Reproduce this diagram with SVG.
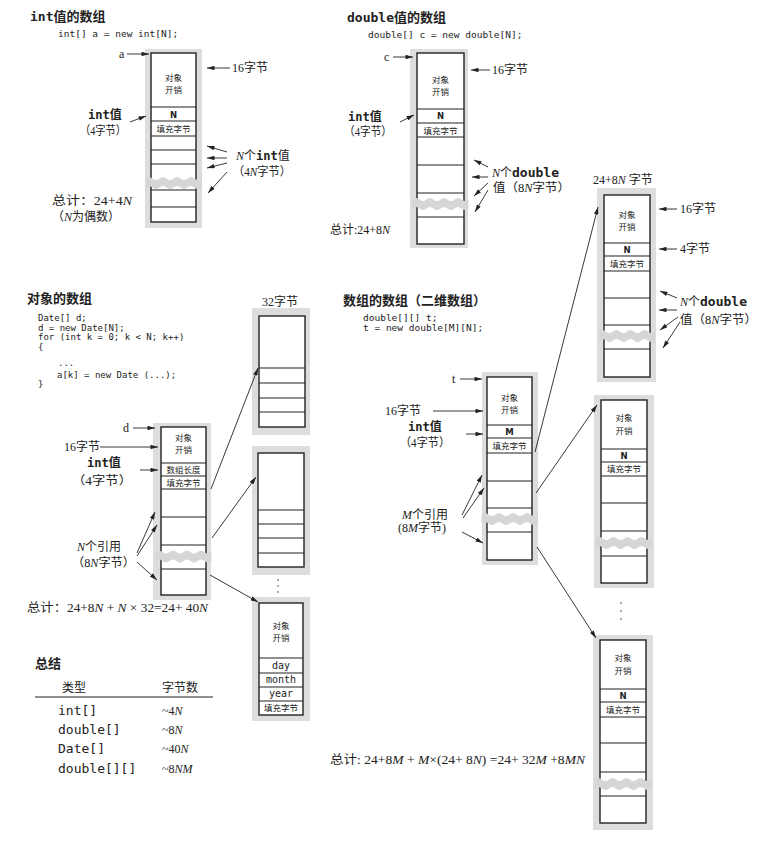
<svg xmlns="http://www.w3.org/2000/svg" xmlns:xlink="http://www.w3.org/1999/xlink" width="768" height="842" viewBox="0 0 768 842">
<style>
.g{fill:#dddddd}
.bx{fill:#fff;stroke:#222;stroke-width:1.4}
.ln{stroke:#222;stroke-width:1.2;fill:none}
.ar{stroke:#222;stroke-width:0.9;fill:none;marker-end:url(#ah)}
.t{font-family:"Liberation Serif","Noto Sans CJK SC",serif;font-size:12px;fill:#222}
.s{font-family:"Noto Sans CJK SC",sans-serif;font-size:8.5px;fill:#222;text-anchor:middle}
.nb{font-family:"DejaVu Sans",sans-serif;font-size:8.5px;font-weight:bold;fill:#222;text-anchor:middle}
.m{font-family:"DejaVu Sans Mono",monospace;fill:#222}
.mb{font-family:"DejaVu Sans Mono",monospace;font-weight:bold}
.h{font-family:"Noto Sans CJK SC",sans-serif;font-weight:bold;font-size:13px;fill:#222}
.i{font-style:italic}
.dot{fill:#444}
</style>
<defs>
<marker id="ah" viewBox="0 0 10 6" refX="10" refY="3" markerWidth="8" markerHeight="4.5" orient="auto" markerUnits="userSpaceOnUse"><path d="M0,0 L10,3 L0,6 Z" fill="#222"/></marker>
<path id="brk" fill="#d6d6d6" d="M0,2 q3.5,-3 7,0 t7,0 t7,0 t7,0 t7,0 t7,0 t7,0 t7,0 L56,11 q-3.5,3 -7,0 t-7,0 t-7,0 t-7,0 t-7,0 t-7,0 t-7,0 t-7,0 Z"/>
</defs>
<rect width="768" height="842" fill="#fff"/>

<g id="int-title">
<text class="h" x="30" y="21"><tspan class="mb">int</tspan>值的数组</text>
<text class="m" x="58" y="37" font-size="9.5">int[] a = new int[N];</text>
</g>
<g id="double-title">
<text class="h" x="347" y="22"><tspan class="mb">double</tspan>值的数组</text>
<text class="m" x="368" y="38" font-size="9.5">double[] c = new double[N];</text>
</g>
<g id="date-title">
<text class="h" x="27" y="303">对象的数组</text>
<g class="m" font-size="9">
<text x="38" y="321">Date[] d;</text>
<text x="38" y="331">d = new Date[N];</text>
<text x="38" y="340">for (int k = 0; k &lt; N; k++)</text>
<text x="38" y="350">{</text>
<text x="58" y="366">...</text>
<text x="57" y="378">a[k] = new Date (...);</text>
<text x="38" y="387">}</text>
</g>
</g>
<g id="twod-title">
<text class="h" x="343" y="305">数组的数组（二维数组）</text>
<text class="m" x="363" y="321" font-size="9.5">double[][] t;</text>
<text class="m" x="363" y="331" font-size="9.5">t = new double[M][N];</text>
</g>

<g id="int-array">
<rect class="g" x="145" y="49" width="57" height="179"/>
<rect class="bx" x="151" y="53" width="45" height="169"/>
<path class="ln" d="M151,107H196M151,121H196M151,136H196M151,150H196M151,164H196M151,190H196M151,207H196"/>
<use href="#brk" x="145.5" y="176.5"/>
<text class="s" x="173.5" y="81">对象</text>
<text class="s" x="173.5" y="93">开销</text>
<text class="nb" x="173.5" y="117.5">N</text>
<text class="s" x="173.5" y="131.5">填充字节</text>
</g>
<g id="int-labels">
<text class="t" x="119" y="58">a</text>
<text class="t" x="232" y="72">16字节</text>
<text class="t" x="88" y="119" font-weight="bold"><tspan class="mb">int</tspan>值</text>
<text class="t" x="80" y="135" textLength="46" lengthAdjust="spacingAndGlyphs">（4字节）</text>
<text class="t" x="236" y="160"><tspan class="i">N</tspan>个<tspan class="mb">int</tspan>值</text>
<text class="t" x="233" y="176" textLength="58" lengthAdjust="spacingAndGlyphs">（4<tspan class="i">N</tspan>字节）</text>
<text class="t" x="52" y="205" textLength="80" lengthAdjust="spacingAndGlyphs">总计：24+4<tspan class="i">N</tspan></text>
<text class="t" x="52" y="221" textLength="68" lengthAdjust="spacingAndGlyphs">（<tspan class="i">N</tspan>为偶数）</text>
</g>

<g id="double-array">
<rect class="g" x="410" y="49" width="58" height="199"/>
<rect class="bx" x="417" y="53" width="47" height="191"/>
<path class="ln" d="M417,109H464M417,123H464M417,137H464M417,165H464M417,193H464M417,217H464"/>
<use href="#brk" x="412.5" y="197.5"/>
<text class="s" x="440.5" y="83">对象</text>
<text class="s" x="440.5" y="95">开销</text>
<text class="nb" x="440.5" y="119">N</text>
<text class="s" x="440.5" y="133.5">填充字节</text>
</g>
<g id="double-labels">
<text class="t" x="384" y="61">c</text>
<text class="t" x="492" y="74">16字节</text>
<text class="t" x="348" y="121" font-weight="bold"><tspan class="mb">int</tspan>值</text>
<text class="t" x="344" y="136" textLength="48" lengthAdjust="spacingAndGlyphs">（4字节）</text>
<text class="t" x="492" y="177"><tspan class="i">N</tspan>个<tspan class="mb" font-size="13">double</tspan></text>
<text class="t" x="493" y="192" textLength="77" lengthAdjust="spacingAndGlyphs">值（8<tspan class="i">N</tspan>字节）</text>
<text class="t" x="330" y="234">总计:24+8<tspan class="i">N</tspan></text>
</g>

<g id="row-array-1">
<rect class="g" x="597" y="188" width="59" height="194"/>
<rect class="bx" x="604" y="195" width="46" height="182"/>
<path class="ln" d="M604,243H650M604,256H650M604,271H650M604,298H650M604,325H650M604,349H650"/>
<use href="#brk" x="599" y="329.5"/>
<text class="s" x="627" y="218">对象</text>
<text class="s" x="627" y="230">开销</text>
<text class="nb" x="627" y="252.5">N</text>
<text class="s" x="627" y="266.5">填充字节</text>
</g>
<g id="row-array-1-labels">
<text class="t" x="593" y="184">24+8<tspan class="i">N</tspan> 字节</text>
<text class="t" x="680" y="213">16字节</text>
<text class="t" x="680" y="253">4字节</text>
<text class="t" x="680" y="306"><tspan class="i">N</tspan>个<tspan class="mb" font-size="13">double</tspan></text>
<text class="t" x="680" y="324" textLength="77" lengthAdjust="spacingAndGlyphs">值（8<tspan class="i">N</tspan>字节）</text>
</g>

<g id="date-array">
<rect class="g" x="153" y="423" width="58" height="177"/>
<rect class="bx" x="161" y="427" width="45" height="168"/>
<path class="ln" d="M161,463H206M161,476H206M161,489H206M161,517H206M161,545H206M161,569H206"/>
<use href="#brk" x="155.5" y="550"/>
<text class="s" x="183.5" y="441">对象</text>
<text class="s" x="183.5" y="453">开销</text>
<text class="s" x="183.5" y="472.5">数组长度</text>
<text class="s" x="183.5" y="485.5">填充字节</text>
</g>
<g id="date-labels">
<text class="t" x="123" y="432">d</text>
<text class="t" x="64" y="451" font-size="11">16字节</text>
<text class="t" x="87" y="467" font-weight="bold"><tspan class="mb">int</tspan>值</text>
<text class="t" x="72" y="485" textLength="60" lengthAdjust="spacingAndGlyphs">（4字节）</text>
<text class="t" x="77" y="551"><tspan class="i">N</tspan>个引用</text>
<text class="t" x="72" y="567" textLength="63" lengthAdjust="spacingAndGlyphs">（8<tspan class="i">N</tspan>字节）</text>
<text class="t" x="27" y="612" textLength="181" lengthAdjust="spacingAndGlyphs">总计：24+8<tspan class="i">N</tspan> + <tspan class="i">N</tspan> × 32=24+ 40<tspan class="i">N</tspan></text>
<text class="t" x="262" y="306">32字节</text>
</g>

<g id="date-obj-1">
<rect class="g" x="252" y="308" width="58" height="127"/>
<rect class="bx" x="259" y="316" width="46" height="111"/>
<path class="ln" d="M259,368H305M259,383H305M259,398H305M259,412H305"/>
</g>
<g id="date-obj-2">
<rect class="g" x="252" y="446" width="58" height="129"/>
<rect class="bx" x="258" y="453" width="46" height="114"/>
<path class="ln" d="M258,510H304M258,524H304M258,538H304M258,553H304"/>
</g>
<g id="date-dots">
<circle class="dot" cx="278" cy="580" r="0.8"/>
<circle class="dot" cx="278" cy="586" r="0.8"/>
<circle class="dot" cx="278" cy="592" r="0.8"/>
</g>
<g id="date-obj-3">
<rect class="g" x="252" y="597" width="58" height="124"/>
<rect class="bx" x="259" y="603" width="44" height="112"/>
<path class="ln" d="M259,658H303M259,673H303M259,687H303M259,701H303"/>
<text class="s" x="281" y="629">对象</text>
<text class="s" x="281" y="641">开销</text>
<text class="m" x="281" y="669" font-size="10" text-anchor="middle">day</text>
<text class="m" x="281" y="683" font-size="10" text-anchor="middle">month</text>
<text class="m" x="281" y="697" font-size="10" text-anchor="middle">year</text>
<text class="s" x="281" y="711">填充字节</text>
</g>

<g id="summary">
<text class="h" x="35" y="668">总结</text>
<text class="t" x="62" y="692">类型</text>
<text class="t" x="162" y="692">字节数</text>
<path class="ln" d="M35,697H213" stroke-width="1.3"/>
<g class="m" font-size="13">
<text x="58" y="715">int[]</text>
<text x="58" y="734">double[]</text>
<text x="58" y="753">Date[]</text>
<text x="58" y="773">double[][]</text>
</g>
<text class="t" x="162" y="715">~4<tspan class="i">N</tspan></text>
<text class="t" x="162" y="734">~8<tspan class="i">N</tspan></text>
<text class="t" x="162" y="753">~40<tspan class="i">N</tspan></text>
<text class="t" x="162" y="773">~8<tspan class="i">NM</tspan></text>
</g>

<g id="twod-array">
<rect class="g" x="482" y="372" width="56" height="193"/>
<rect class="bx" x="487" y="377" width="45" height="183"/>
<path class="ln" d="M487,425H532M487,438H532M487,453H532M487,481H532M487,508H532M487,532H532"/>
<use href="#brk" x="481.5" y="512.5"/>
<text class="s" x="509.5" y="401">对象</text>
<text class="s" x="509.5" y="413">开销</text>
<text class="nb" x="509.5" y="434.5">M</text>
<text class="s" x="509.5" y="448.5">填充字节</text>
</g>
<g id="twod-labels">
<text class="t" x="452" y="383">t</text>
<text class="t" x="385" y="415">16字节</text>
<text class="t" x="408" y="431" font-weight="bold"><tspan class="mb">int</tspan>值</text>
<text class="t" x="400" y="447" textLength="50" lengthAdjust="spacingAndGlyphs">（4字节）</text>
<text class="t" x="402" y="519"><tspan class="i">M</tspan>个引用</text>
<text class="t" x="398" y="532">(8<tspan class="i">M</tspan>字节)</text>
<text class="t" x="330" y="764" textLength="255" lengthAdjust="spacingAndGlyphs">总计: 24+8<tspan class="i">M</tspan> + <tspan class="i">M</tspan>×(24+ 8<tspan class="i">N</tspan>) =24+ 32<tspan class="i">M</tspan> +8<tspan class="i">MN</tspan></text>
</g>

<g id="row-array-2">
<rect class="g" x="594" y="395" width="60" height="193"/>
<rect class="bx" x="601" y="400" width="46" height="183"/>
<path class="ln" d="M601,449H647M601,462H647M601,476H647M601,503H647M601,531H647M601,556H647"/>
<use href="#brk" x="596" y="536.5"/>
<text class="s" x="624" y="421">对象</text>
<text class="s" x="624" y="434">开销</text>
<text class="nb" x="624" y="458.5">N</text>
<text class="s" x="624" y="472">填充字节</text>
</g>
<g id="row-dots">
<circle class="dot" cx="621" cy="603" r="0.8"/>
<circle class="dot" cx="621" cy="611" r="0.8"/>
<circle class="dot" cx="621" cy="619" r="0.8"/>
</g>
<g id="row-array-3">
<rect class="g" x="593" y="635" width="60" height="195"/>
<rect class="bx" x="600" y="640" width="46" height="183"/>
<path class="ln" d="M600,689H646M600,702H646M600,717H646M600,743H646M600,772H646M600,796H646"/>
<use href="#brk" x="595" y="777.5"/>
<text class="s" x="623" y="661">对象</text>
<text class="s" x="623" y="674">开销</text>
<text class="nb" x="623" y="698.5">N</text>
<text class="s" x="623" y="713">填充字节</text>
</g>

<g id="connectors">
<path class="ar" d="M127,54H149"/>
<path class="ar" d="M230,68H207"/>
<path class="ar" d="M130,122L146,116"/>
<path class="ar" d="M227,152L207,146"/>
<path class="ar" d="M227,158H207"/>
<path class="ar" d="M227,163L207,168"/>
<path class="ar" d="M227,172L208,193"/>
<path class="ar" d="M393,57H413"/>
<path class="ar" d="M490,70H471"/>
<path class="ar" d="M400,122L414,115"/>
<path class="ar" d="M488,167L474,160"/>
<path class="ar" d="M488,177H472"/>
<path class="ar" d="M488,183L474,196"/>
<path class="ar" d="M488,190L475,212"/>
<path class="ar" d="M677,209H659"/>
<path class="ar" d="M677,249H659"/>
<path class="ar" d="M677,298L660,291"/>
<path class="ar" d="M677,310H659"/>
<path class="ar" d="M678,317L660,330"/>
<path class="ar" d="M680,322L663,348"/>
<path class="ar" d="M133,428H155"/>
<path class="ar" d="M100,447H158"/>
<path class="ar" d="M140,470H158"/>
<path class="ar" d="M137,553L155,512"/>
<path class="ar" d="M137,556L157,525"/>
<path class="ar" d="M137,562L157,580"/>
<path class="ar" d="M211,489L258,368"/>
<path class="ar" d="M212,538L256,477"/>
<path class="ar" d="M210,575L258,602"/>
<path class="ar" d="M460,379H482"/>
<path class="ar" d="M433,411H483"/>
<path class="ar" d="M466,434H483"/>
<path class="ar" d="M462,515L482,475"/>
<path class="ar" d="M463,518L484,488"/>
<path class="ar" d="M462,532L483,543"/>
<path class="ar" d="M535,452L598,207"/>
<path class="ar" d="M536,493L597,405"/>
<path class="ar" d="M537,547L596,638"/>
</g>
</svg>
